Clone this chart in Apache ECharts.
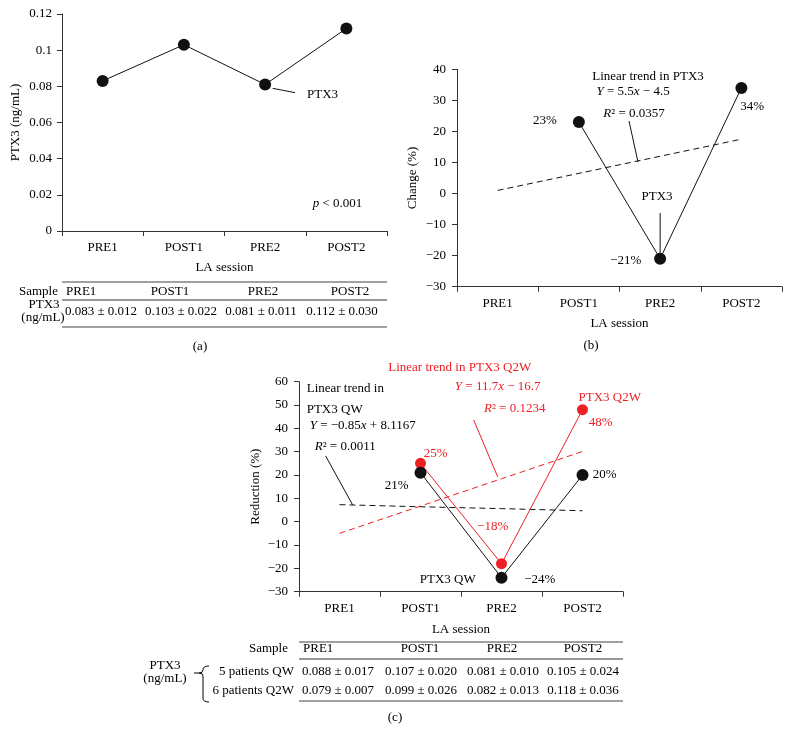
<!DOCTYPE html>
<html><head><meta charset="utf-8">
<script src="https://cdn.jsdelivr.net/npm/echarts@6/dist/echarts.min.js"></script>
<style>html,body{margin:0;padding:0;background:#fff}#c{width:790px;height:734px}</style>
</head><body><div id="c"></div>
<script>
// ---------- data ----------
const categories = ['PRE1', 'POST1', 'PRE2', 'POST2'];
const ptx3Mean = [0.083, 0.103, 0.081, 0.112];
const changePct = [null, 23, -21, 34];
const changeTrend = [1, 6.5, 12, 17.5];
const reductionQW = [null, 21, -24, 20];
const reductionQ2W = [null, 25, -18, 48];
const trendQW = [7.3, 6.4, 5.6, 4.7];
const trendQ2W = [-5, 6.7, 18.4, 30.1];
const tableA = ['0.083 ± 0.012', '0.103 ± 0.022', '0.081 ± 0.011', '0.112 ± 0.030'];
const tableQW = ['0.088 ± 0.017', '0.107 ± 0.020', '0.081 ± 0.010', '0.105 ± 0.024'];
const tableQ2W = ['0.079 ± 0.007', '0.099 ± 0.026', '0.082 ± 0.013', '0.118 ± 0.036'];

const FONT = 'Liberation Serif';
const RED = '#ee2024';
const BLK = '#111';
const AX = '#333';

const chart = echarts.init(document.getElementById('c'), null, {renderer: 'canvas'});

function catAxis(g, gap) {
  return {
    type: 'category', gridIndex: g, data: categories, boundaryGap: true,
    axisLine: {show: true, onZero: false, lineStyle: {color: AX, width: 1}},
    axisTick: {show: true, length: 5, lineStyle: {color: AX}},
    axisLabel: {color: '#000', fontSize: 13, fontFamily: FONT, margin: 10},
    splitLine: {show: false},
    name: 'LA session', nameLocation: 'middle', nameGap: gap,
    nameTextStyle: {color: '#000', fontSize: 13, fontFamily: FONT}
  };
}
function hidAxis(g) {
  return {type: 'value', gridIndex: g, min: -0.5, max: 3.5, show: false,
    axisLine: {onZero: false}};
}
function valAxis(g, min, max, interval, name, gap, margin, fmt) {
  return {
    type: 'value', gridIndex: g, min: min, max: max, interval: interval,
    axisLine: {show: true, onZero: false, lineStyle: {color: AX, width: 1}},
    axisTick: {show: true, length: 5, lineStyle: {color: AX}},
    axisLabel: {color: '#000', fontSize: 13, fontFamily: FONT, margin: margin, formatter: fmt},
    splitLine: {show: false},
    name: name, nameLocation: 'middle', nameGap: gap, nameRotate: 90,
    nameTextStyle: {color: '#000', fontSize: 13, fontFamily: FONT}
  };
}
const minusFmt = v => String(v).replace('-', '\u2212');
const decFmt = v => String(+(+v).toFixed(2));

function leader(g, a, color) {
  return {type: 'line', xAxisIndex: 3 + g, yAxisIndex: g, data: a, symbol: 'none',
    lineStyle: {color: color, width: 1}, silent: true, z: 3};
}

const option = {
  animation: false,
  backgroundColor: '#fff',
  textStyle: {fontFamily: FONT},
  grid: [
    {left: 62, top: 14, width: 325, height: 217},
    {left: 457, top: 69.3, width: 325, height: 217.4},
    {left: 299, top: 381.7, width: 324, height: 210}
  ],
  xAxis: [catAxis(0, 30), catAxis(1, 30), catAxis(2, 31), hidAxis(0), hidAxis(1), hidAxis(2)],
  yAxis: [
    valAxis(0, 0, 0.12, 0.02, 'PTX3 (ng/mL)', 40, 10, decFmt),
    valAxis(1, -30, 40, 10, 'Change (%)', 38, 11, minusFmt),
    valAxis(2, -30, 60, 10, 'Reduction (%)', 37, 11, minusFmt)
  ],
  series: [
    {type: 'line', xAxisIndex: 0, yAxisIndex: 0, data: ptx3Mean, symbol: 'circle', symbolSize: 12,
      itemStyle: {color: BLK}, lineStyle: {color: BLK, width: 1}, z: 5},
    leader(0, [[2.093, 0.0789], [2.368, 0.0765]], BLK),

    {type: 'line', xAxisIndex: 1, yAxisIndex: 1, data: changeTrend, symbol: 'none',
      lineStyle: {color: BLK, width: 1, type: [6, 4]}, z: 2},
    {type: 'line', xAxisIndex: 1, yAxisIndex: 1, data: changePct, symbol: 'circle', symbolSize: 12,
      connectNulls: false, itemStyle: {color: BLK}, lineStyle: {color: BLK, width: 1}, z: 5},
    leader(1, [[1.617, 23.35], [1.728, 10.1]], BLK),
    leader(1, [[2.0, -6.3], [2.0, -20.1]], BLK),

    {type: 'line', xAxisIndex: 2, yAxisIndex: 2, data: trendQ2W, symbol: 'none',
      lineStyle: {color: RED, width: 1, type: [6, 4]}, z: 2},
    {type: 'line', xAxisIndex: 2, yAxisIndex: 2, data: trendQW, symbol: 'none',
      lineStyle: {color: BLK, width: 1, type: [6, 4]}, z: 2},
    leader(2, [[1.657, 43.6], [1.953, 19.2]], RED),
    leader(2, [[-0.171, 28.2], [0.162, 7.2]], BLK),
    {type: 'line', xAxisIndex: 2, yAxisIndex: 2, data: reductionQ2W, symbol: 'circle', symbolSize: 11,
      itemStyle: {color: RED}, lineStyle: {color: RED, width: 1}, z: 5},
    {type: 'line', xAxisIndex: 2, yAxisIndex: 2, data: reductionQW, symbol: 'circle', symbolSize: 12,
      itemStyle: {color: BLK}, lineStyle: {color: BLK, width: 1}, z: 6}
  ]
};
chart.setOption(option);

// ---------- annotations (data coordinates) ----------
const annotations = [
  {g: 0, x: 2.515, y: 0.0752, t: 'PTX3', a: 'left'},
  {g: 0, x: 2.891, y: 0.0153, t: '{i|p} < 0.001'},

  {g: 1, x: 1.851, y: 37.5, t: 'Linear trend in PTX3'},
  {g: 1, x: 1.667, y: 32.7, t: '{i|Y} = 5.5{i|x} \u2212 4.5'},
  {g: 1, x: 1.679, y: 25.9, t: '{i|R}\u00b2 = 0.0357'},
  {g: 1, x: 0.581, y: 23.35, t: '23%'},
  {g: 1, x: 3.134, y: 27.9, t: '34%'},
  {g: 1, x: 1.578, y: -21.7, t: '\u221221%'},
  {g: 1, x: 1.962, y: -1.1, t: 'PTX3'},

  {g: 2, x: 1.484, y: 65.9, t: 'Linear trend in PTX3 Q2W', c: RED},
  {g: 2, x: 1.953, y: 57.7, t: '{ir|Y} = 11.7{ir|x} \u2212 16.7', c: RED},
  {g: 2, x: 2.163, y: 48.3, t: '{ir|R}\u00b2 = 0.1234', c: RED},
  {g: 2, x: 3.336, y: 53.4, t: 'PTX3 Q2W', c: RED},
  {g: 2, x: 3.225, y: 42.3, t: '48%', c: RED},
  {g: 2, x: 1.188, y: 29.4, t: '25%', c: RED},
  {g: 2, x: 1.891, y: -2.3, t: '\u221218%', c: RED},
  {g: 2, x: -0.405, y: 56.9, t: 'Linear trend in', a: 'left'},
  {g: 2, x: -0.405, y: 47.9, t: 'PTX3 QW', a: 'left'},
  {g: 2, x: -0.368, y: 41.4, t: '{i|Y} = \u22120.85{i|x} + 8.1167', a: 'left'},
  {g: 2, x: -0.306, y: 32.0, t: '{i|R}\u00b2 = 0.0011', a: 'left'},
  {g: 2, x: 0.706, y: 15.3, t: '21%'},
  {g: 2, x: 3.274, y: 20.0, t: '20%'},
  {g: 2, x: 2.472, y: -25.0, t: '\u221224%'},
  {g: 2, x: 1.336, y: -24.6, t: 'PTX3 QW'}
];

const rich = {
  i: {fontStyle: 'italic', fontFamily: FONT, fontSize: 13, fill: '#000'},
  ir: {fontStyle: 'italic', fontFamily: FONT, fontSize: 13, fill: RED}
};
function txt(x, y, t, align, color) {
  return {type: 'text', x: x, y: y, silent: true, z: 100,
    style: {text: t, fontFamily: FONT, fontSize: 13, fill: color || '#000',
      align: align || 'center', verticalAlign: 'middle',
      textAlign: align || 'center', textVerticalAlign: 'middle', rich: rich}};
}
function seg(x1, y1, x2, y2, w, color) {
  return {type: 'line', silent: true, z: 100,
    shape: {x1: x1, y1: y1, x2: x2, y2: y2}, style: {stroke: color || '#000', lineWidth: w || 1}};
}
function hline(x1, x2, y, w, color) { return seg(x1, y, x2, y, w, color); }
function curve(x1, y1, cx, cy, x2, y2) {
  return {type: 'bezierCurve', silent: true, z: 100,
    shape: {x1: x1, y1: y1, cpx1: cx, cpy1: cy, x2: x2, y2: y2},
    style: {stroke: '#000', lineWidth: 1, fill: null}};
}

const graphics = [];
annotations.forEach(an => {
  const p = chart.convertToPixel({xAxisIndex: 3 + an.g, yAxisIndex: an.g}, [an.x, an.y]);
  graphics.push(txt(p[0], p[1], an.t, an.a, an.c));
});

// ---------- table (a) ----------
graphics.push(hline(62, 387, 282, 1.2, '#444'));
graphics.push(hline(62, 387, 300, 1.6, '#777'));
graphics.push(hline(62, 387, 327, 1.2, '#444'));
graphics.push(txt(58, 292, 'Sample', 'right'));
graphics.push(txt(66, 292, categories[0], 'left'));
[170, 263, 350].forEach((x, i) => graphics.push(txt(x, 292, categories[i + 1])));
graphics.push(txt(44, 305, 'PTX3'));
graphics.push(txt(43, 318, '(ng/mL)'));
[101, 181, 261, 342].forEach((x, i) => graphics.push(txt(x, 312, tableA[i])));
graphics.push(txt(200, 347, '(a)'));
graphics.push(txt(591, 346, '(b)'));

// ---------- table (c) ----------
graphics.push(hline(299, 623, 642, 1.2, '#444'));
graphics.push(hline(299, 623, 659, 1.6, '#777'));
graphics.push(hline(299, 623, 701, 1.2, '#444'));
graphics.push(txt(288, 649, 'Sample', 'right'));
graphics.push(txt(303, 649, categories[0], 'left'));
[420, 502, 583].forEach((x, i) => graphics.push(txt(x, 649, categories[i + 1])));
graphics.push(txt(294, 672, '5 patients QW', 'right'));
graphics.push(txt(294, 691, '6 patients Q2W', 'right'));
[338, 421, 503, 583].forEach((x, i) => {
  graphics.push(txt(x, 672, tableQW[i]));
  graphics.push(txt(x, 691, tableQ2W[i]));
});
graphics.push(txt(165, 666, 'PTX3'));
graphics.push(txt(165, 679, '(ng/mL)'));
// brace
graphics.push(curve(209, 666, 203, 666, 203, 670));
graphics.push(curve(203, 670, 203, 673, 199, 673));
graphics.push(curve(199, 673, 203, 673, 203, 676));
graphics.push(seg(203, 676, 203, 698));
graphics.push(curve(203, 698, 203, 702, 209, 702));
graphics.push(seg(194, 673, 199, 673));
graphics.push(txt(395, 718, '(c)'));

chart.setOption({graphic: graphics});
</script>
</body></html>
